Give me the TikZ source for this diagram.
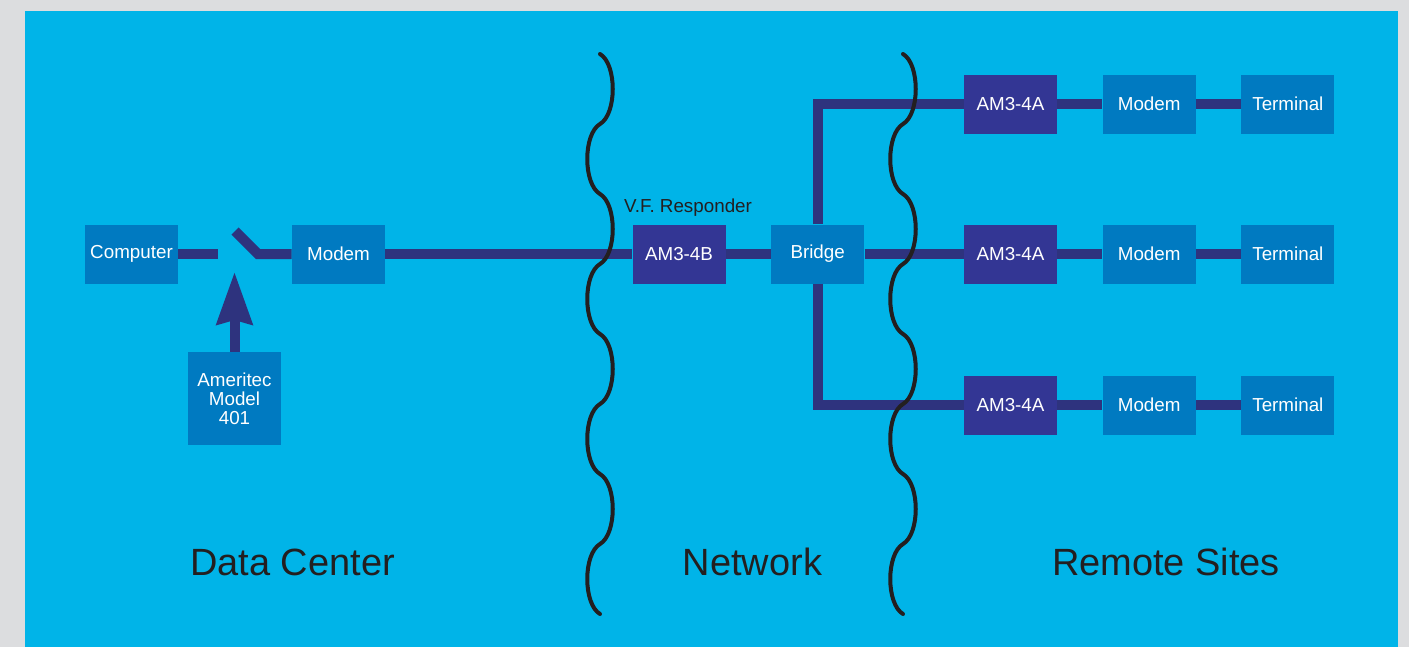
\documentclass[tikz,border=0pt]{standalone}
\usepackage{fontspec}
\setmainfont{Liberation Sans}
\usepackage{xcolor}
\usepackage{tikz}
\usetikzlibrary{arrows.meta}
\usetikzlibrary{positioning}

\definecolor{pagegray}{RGB}{220,221,223}
\definecolor{panelcyan}{RGB}{0,180,232}
\definecolor{boxlight}{RGB}{0,122,193}
\definecolor{boxdark}{RGB}{51,54,148}
\definecolor{wirecol}{RGB}{46,51,126}
\definecolor{ink}{RGB}{35,31,32}

\begin{document}
\begin{tikzpicture}[x=0.02cm,y=-0.02cm,node distance=0.9cm,
  box/.style={minimum width=1.86cm,minimum height=1.18cm,inner sep=0pt,
    text=white,align=center,font=\fontsize{10.7}{10.8}\selectfont},
  lbox/.style={box,fill=boxlight},
  dbox/.style={box,fill=boxdark},
  wire/.style={draw=wirecol,line width=0.2cm},
  brace/.style={draw=ink,line width=0.08cm,line cap=round,line join=round},
  region/.style={text=ink,font=\fontsize{21.6}{24}\selectfont}]
  % background
  \fill[pagegray] (0,0) rectangle (1409,647);
  \useasboundingbox (0,0) rectangle (1409,647);
  \fill[panelcyan] (25,11) rectangle (1398,647);

  % data center
  \node[lbox] (comp) at (131.5,254) {Computer};
  \node[lbox] (modem) at (338.5,254) {Modem};
  \node[lbox,minimum height=1.86cm] (amer) at (234.5,398.5) {Ameritec\\Model\\401};
  \coordinate (swL) at (218,254);
  \coordinate (swT) at (235,231);
  \coordinate (swR) at (258,254);
  \coordinate (swP) at (234.5,272);

  % network
  \node[dbox] (resp) at (679,254) {AM3-4B};
  \node[lbox,right=of resp] (bridge) {Bridge};
  \node[text=ink,font=\fontsize{10.7}{12}\selectfont] (vf) at (688,208) {V.F. Responder};

  % remote sites
  \node[dbox] (amA) at (1010.5,104) {AM3-4A};
  \node[lbox,right=of amA] (mdA) {Modem};
  \node[lbox,right=of mdA] (trA) {Terminal};
  \node[dbox] (amB) at (1010.5,254) {AM3-4A};
  \node[lbox,right=of amB] (mdB) {Modem};
  \node[lbox,right=of mdB] (trB) {Terminal};
  \node[dbox] (amC) at (1010.5,405) {AM3-4A};
  \node[lbox,right=of amC] (mdC) {Modem};
  \node[lbox,right=of mdC] (trC) {Terminal};

  % wires
  \draw[wire] (comp) -- (swL);
  \draw[wire] (swT) -- (swR) -- (modem);
  \draw[wire,-{Stealth[length=1.04cm,width=0.7cm,inset=0.08cm]}] (amer) -- (swP);
  \draw[wire] (modem) -- (resp);
  \draw[wire] (resp) -- (bridge);
  \draw[wire] (bridge) -- (amB);
  \draw[wire] (bridge.north) |- (amA);
  \draw[wire] (bridge.south) |- (amC);
  \draw[wire] (amA) -- (mdA) -- (trA);
  \draw[wire] (amB) -- (mdB) -- (trB);
  \draw[wire] (amC) -- (mdC) -- (trC);

  % braces
  \foreach \bx in {600,903}
    \draw[brace] (\bx,54)
      \foreach \k in {1,...,4} {
        .. controls +(17,10) and +(17,-10) .. ++(0,70)
        .. controls +(-17,10) and +(-17,-10) .. ++(0,70) };

  % region labels
  \node[region] (dc) at (292.5,562) {Data Center};
  \node[region] (net) at (752.5,562) {Network};
  \node[region] (rs) at (1166,562) {Remote Sites};
\end{tikzpicture}
\end{document}
